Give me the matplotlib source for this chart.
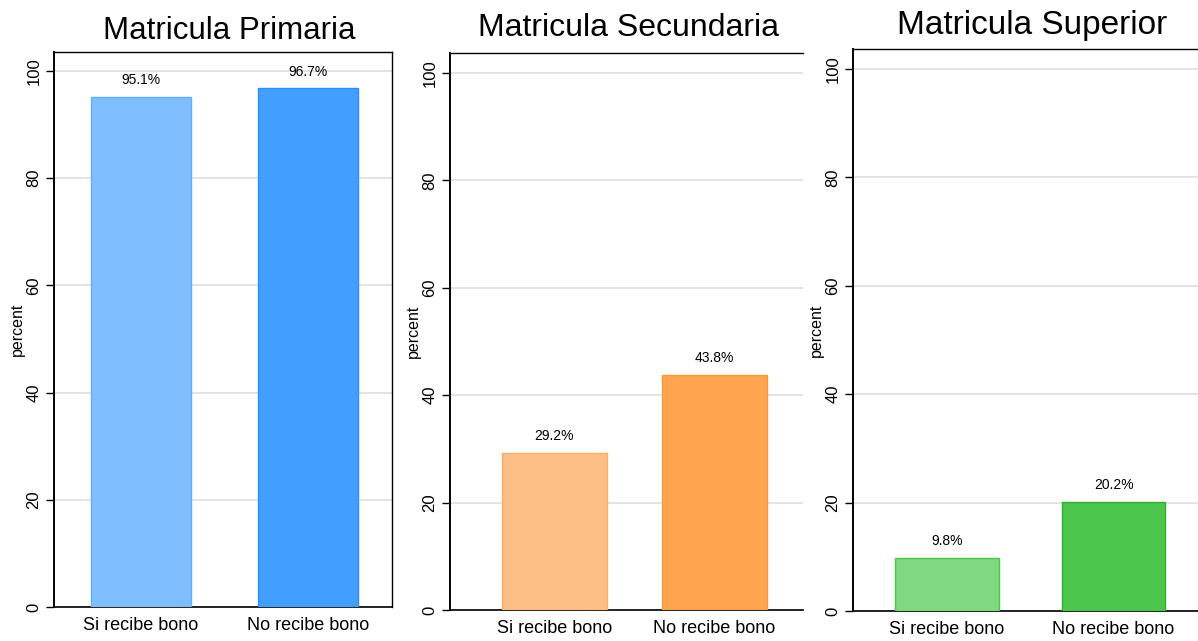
import numpy as np
import matplotlib
matplotlib.use("Agg")
import matplotlib.pyplot as plt

plt.rcParams['font.family'] = ['Liberation Sans', 'DejaVu Sans']

# porcentaje de matricula por nivel segun recepcion del bono
categorias = ["Si recibe bono", "No recibe bono"]
primaria = [95.1, 96.7]
secundaria = [29.2, 43.8]
superior = [9.8, 20.2]
titulos = ["Matricula Primaria", "Matricula Secundaria", "Matricula Superior"]
yticks = [0, 20, 40, 60, 80, 100]

W, H = 1198, 641
fig = plt.figure(figsize=(W / 100, H / 100), dpi=100)

# (izq, der, arriba, abajo) en pixeles, limites x, ancho barra, tamaño titulo
paneles = [
    dict(box=(54, 392, 52, 607), xlim=(-0.521, 1.503), ancho=0.60, tsize=22.5,
         tx=229, ty=39, colores=["#80BFFF", "#429EFF"], bordes=["#62AFFF", "#2C90F6"],
         derecho=True, ylim=103.5),
    dict(box=(450, 803, 53, 610), xlim=(-0.653, 1.553), ancho=0.656, tsize=23,
         tx=628, ty=36, colores=["#FDBF85", "#FFA54F"], bordes=["#FBAE63", "#F4993C"],
         derecho=False, ylim=103.7),
    dict(box=(853, 1198, 49, 611), xlim=(-0.565, 1.507), ancho=0.62, tsize=24,
         tx=1032, ty=34, colores=["#80D881", "#4DC64E"], bordes=["#4CC54C", "#2EAF2F"],
         derecho=False, ylim=103.7),
]
datos = [primaria, secundaria, superior]

x = np.arange(len(categorias))

for p, valores, titulo in zip(paneles, datos, titulos):
    l, r, t, b = p['box']
    ax = fig.add_axes([l / W, (H - b) / H, (r - l) / W, (b - t) / H])

    ax.bar(x, valores, width=p['ancho'], color=p['colores'],
           edgecolor=p['bordes'], linewidth=1.0, zorder=3)
    for xi, v in zip(x, valores):
        ax.annotate(f"{v:.1f}%", (xi, v), xytext=(0, 7), textcoords="offset points",
                    ha="center", va="bottom", fontsize=10)

    ax.set_xlim(*p['xlim'])
    ax.set_ylim(0, p['ylim'])
    ax.set_yticks(yticks)
    ax.set_yticklabels([str(v) for v in yticks], rotation=90, va="center")
    ax.set_xticks(x)
    ax.set_xticklabels(categorias, fontsize=13)
    ax.tick_params(axis='x', length=0, pad=7)
    ax.tick_params(axis='y', length=6, width=1, labelsize=12, pad=3)
    ax.set_ylabel("percent", fontsize=11.5, labelpad=1)

    ax.grid(axis='y', color="#DEDEDE", linewidth=1.2, zorder=0)
    ax.set_axisbelow(True)

    for lado in ['left', 'top', 'bottom']:
        ax.spines[lado].set_color("black")
    ax.spines['left'].set_linewidth(1.4)
    ax.spines['top'].set_linewidth(1.0)
    ax.spines['bottom'].set_linewidth(1.2)
    ax.spines['right'].set_visible(p['derecho'])
    ax.spines['right'].set_linewidth(1.0)

    fig.text(p['tx'] / W, 1 - p['ty'] / H, titulo, ha="center", va="baseline",
             fontsize=p['tsize'])

fig.savefig("out.png", dpi=100)
